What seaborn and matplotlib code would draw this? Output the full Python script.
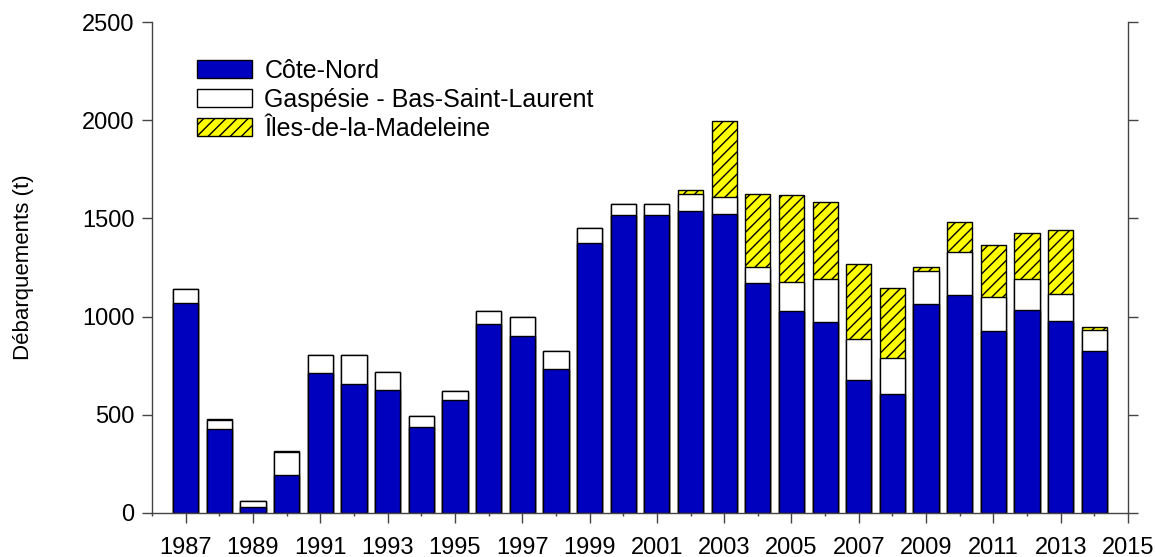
import numpy as np
import pandas as pd
import matplotlib
matplotlib.use("Agg")
import matplotlib.pyplot as plt
from matplotlib.patches import Patch
from matplotlib.ticker import MultipleLocator
import seaborn as sns

# --- Data (tonnes landed per region) ---
years = list(range(1987, 2015))
cote_nord = [1067, 426, 31, 196, 713, 659, 628, 437, 573, 960, 903, 731, 1375, 1517,
             1517, 1540, 1524, 1172, 1030, 972, 677, 608, 1063, 1110, 927, 1036, 980, 825]
gaspesie = [76, 50, 32, 113, 94, 146, 90, 55, 49, 69, 97, 94, 76, 54,
            54, 86, 85, 82, 146, 218, 208, 183, 167, 218, 171, 154, 134, 106]
iles = [0, 4, 0, 5, 0, 0, 0, 0, 0, 0, 0, 0, 0, 0,
        0, 21, 388, 370, 444, 394, 383, 356, 20, 156, 266, 238, 326, 18]

labels = ["Côte-Nord", "Gaspésie - Bas-Saint-Laurent", "Îles-de-la-Madeleine"]
BLUE = "#0000BF"
YELLOW = "#FFFF00"

df = pd.DataFrame({"year": years, "cote": cote_nord, "gaspe": gaspesie, "iles": iles})
df["lvl2"] = df["cote"] + df["gaspe"]
df["lvl3"] = df["lvl2"] + df["iles"]

# --- Style ---
sns.set_style("ticks")
plt.rcParams["font.family"] = ["Liberation Sans", "DejaVu Sans"]
plt.rcParams["hatch.linewidth"] = 1.0
plt.rcParams["hatch.color"] = "black"
plt.rcParams["text.color"] = "black"
plt.rcParams["axes.labelcolor"] = "black"
plt.rcParams["xtick.labelcolor"] = "black"
plt.rcParams["ytick.labelcolor"] = "black"

fig = plt.figure(figsize=(11.56, 5.57), dpi=100)
ax = fig.add_axes([0.1315, 0.079, 0.8443, 0.8815])

common = dict(native_scale=True, width=0.75, errorbar=None, saturation=1,
              edgecolor="black", linewidth=1.0, ax=ax)
# stacked by overlaying cumulative totals
sns.barplot(data=df, x="year", y="lvl3", color=YELLOW, hatch="///", **common)
sns.barplot(data=df, x="year", y="lvl2", color="white", **common)
sns.barplot(data=df, x="year", y="cote", color=BLUE, **common)

ax.set_xlim(1986, 2015)
ax.set_ylim(0, 2500)
ax.set_xticks(range(1987, 2016, 2))
ax.xaxis.set_minor_locator(MultipleLocator(1))
ax.set_yticks(range(0, 2501, 500))
ax.set_xlabel("")
ax.set_ylabel("Débarquements (t)", fontsize=16)
ax.yaxis.set_label_coords(-0.121, 0.5)

spine_col = "#444444"
ax.spines["top"].set_visible(False)
for s in ["left", "right", "bottom"]:
    ax.spines[s].set_visible(True)
    ax.spines[s].set_color(spine_col)
    ax.spines[s].set_linewidth(1.0)

ax.tick_params(axis="both", which="major", direction="out", length=7.5, width=1,
               color=spine_col, labelsize=17, pad=5)
ax.tick_params(axis="x", which="major", pad=10)
ax.tick_params(axis="y", right=True, labelright=False)
ax.tick_params(axis="x", which="minor", direction="out", length=2.5, width=1, color=spine_col)

handles = [Patch(facecolor=BLUE, edgecolor="black", label=labels[0]),
           Patch(facecolor="white", edgecolor="black", label=labels[1]),
           Patch(facecolor=YELLOW, edgecolor="black", hatch="///", label=labels[2])]
ax.legend(handles=handles, loc="upper left", bbox_to_anchor=(0.046, 0.925),
          frameon=False, fontsize=18, handlelength=2.2, handleheight=0.7,
          labelspacing=0.2, handletextpad=0.5, borderpad=0, borderaxespad=0)

fig.savefig("out.png", dpi=100)
